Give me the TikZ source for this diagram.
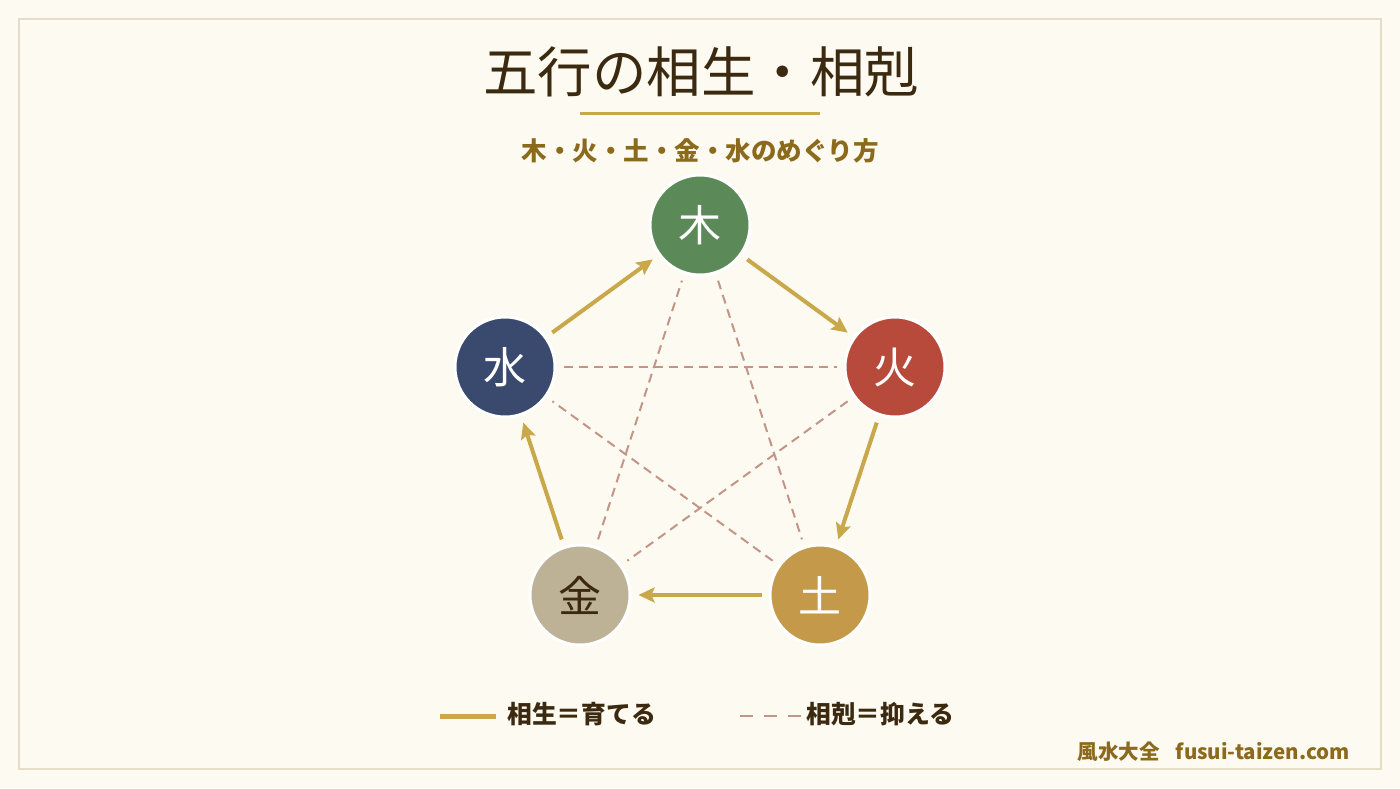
\documentclass[tikz,border=0pt]{standalone}
\usepackage{fontspec}
\newfontfamily\cjk{Noto Sans CJK JP}
\usetikzlibrary{arrows.meta}
\definecolor{bg}{HTML}{FDFAF1}
\definecolor{frame}{HTML}{E6DDC6}
\definecolor{ink}{HTML}{3B2A10}
\definecolor{gold}{HTML}{C9A84C}
\definecolor{goldtext}{HTML}{8C6A1C}
\definecolor{koku}{HTML}{C29586}
\definecolor{wood}{HTML}{5B8A58}
\definecolor{fire}{HTML}{B84A3C}
\definecolor{earth}{HTML}{C49A4A}
\definecolor{metal}{HTML}{BDB196}
\definecolor{water}{HTML}{3A4A6E}
\tikzset{
  elem/.style={circle, minimum size=100pt, inner sep=0pt, draw=white, line width=3pt, font=\cjk\fontsize{43}{46}\selectfont},
  sei/.style={draw=gold, line width=4pt, shorten <=7pt, shorten >=7pt, -{Stealth[length=16pt,width=15pt,inset=3pt]}},
  koku/.style={draw=koku, line width=2pt, dash pattern=on 9pt off 6pt, shorten <=7pt, shorten >=7pt},
  lbl/.style={inner sep=0pt, text=ink, font=\cjk\bfseries\fontsize{24.8}{28}\selectfont}
}
\begin{document}
\begin{tikzpicture}[x=1pt,y=-1pt]
\fill[bg] (0,0) rectangle (1400,788);
\draw[frame, line width=2pt] (19,19) rectangle (1381,769);
\useasboundingbox (0,0) rectangle (1400,788);
% title
\node[inner sep=0pt, text=ink, font=\cjk\fontsize{54.5}{60}\selectfont] (title) at (701,72) {五行の相生・相剋};
\coordinate (ul1) at (580,113);
\coordinate (ul2) at (820,113);
\draw[gold, line width=3pt] (ul1) -- (ul2);
\node[inner sep=0pt, text=goldtext, font=\cjk\bfseries\fontsize{25.5}{28}\selectfont] (sub) at (700,151) {木・火・土・金・水のめぐり方};
% elements
\node[elem, fill=wood, text=white] (moku) at (700,225) {木};
\node[elem, fill=fire, text=white] (ka) at (895,367) {火};
\node[elem, fill=earth, text=white] (do) at (820,595) {土};
\node[elem, fill=metal, text=ink] (kin) at (580,595) {金};
\node[elem, fill=water, text=white] (sui) at (505,367) {水};
% kokusei (dashed)
\draw[koku] (moku) -- (do);
\draw[koku] (do) -- (sui);
\draw[koku] (sui) -- (ka);
\draw[koku] (ka) -- (kin);
\draw[koku] (kin) -- (moku);
% sousei (arrows)
\draw[sei] (moku) -- (ka);
\draw[sei] (ka) -- (do);
\draw[sei] (do) -- (kin);
\draw[sei] (kin) -- (sui);
\draw[sei] (sui) -- (moku);
% legend
\coordinate (l1a) at (440,716);
\coordinate (l1b) at (496,716);
\draw[gold, line width=5pt] (l1a) -- (l1b);
\node[lbl, anchor=west] (leg1) at (507,714) {相生＝育てる};
\coordinate (l2a) at (740,716);
\coordinate (l2b) at (802,716);
\draw[koku, line width=2.5pt, dash pattern=on 13pt off 11pt, shorten <=0pt, shorten >=0pt] (l2a) -- (l2b);
\node[lbl, anchor=west] (leg2) at (806,714) {相剋＝抑える};
% footer
\node[inner sep=0pt, anchor=east, text=goldtext, font=\cjk\bfseries\fontsize{20.5}{24}\selectfont] (foot) at (1350,752) {風水大全\hspace{16pt}fusui-taizen.com};
\end{tikzpicture}
\end{document}
